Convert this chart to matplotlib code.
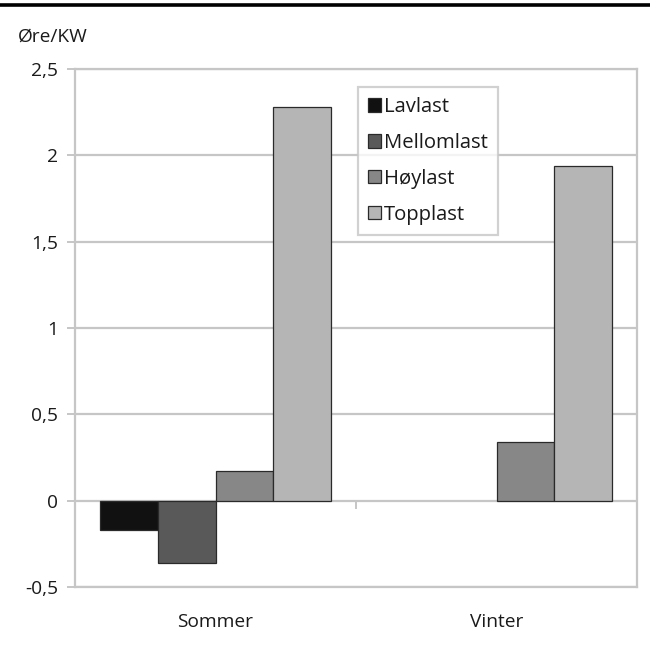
import matplotlib
matplotlib.use("Agg")
import matplotlib.pyplot as plt
import numpy as np
from matplotlib.lines import Line2D

plt.rcParams['font.family'] = ['Open Sans', 'DejaVu Sans']

# Data
categories = ["Sommer", "Vinter"]
series_names = ["Lavlast", "Mellomlast", "Høylast", "Topplast"]
lavlast = [-0.17, 0.0]
mellomlast = [-0.36, 0.0]
hoylast = [0.17, 0.34]
topplast = [2.28, 1.94]
y_ticks = [-0.5, 0, 0.5, 1, 1.5, 2, 2.5]
y_tick_labels = ["-0,5", "0", "0,5", "1", "1,5", "2", "2,5"]
y_unit = "Øre/KW"

series_values = [lavlast, mellomlast, hoylast, topplast]
colors = ["#111111", "#595959", "#878787", "#b5b5b5"]
grid_color = "#c6c6c6"
text_color = "#1a1a1a"
fs = 13.8
legend_fs = 14.6

fig = plt.figure(figsize=(6.5, 6.48), dpi=100)
ax = fig.add_axes([75 / 650, 1 - 587 / 648, 562 / 650, 518 / 648])

x = np.arange(len(categories)) + 0.5
width = 0.205
offsets = (np.arange(len(series_names)) - 1.5) * width
for name, vals, col, off in zip(series_names, series_values, colors, offsets):
    # empty (zero) bars get no outline
    lws = [0.9 if v != 0 else 0.0 for v in vals]
    ax.bar(x + off, vals, width=width, color=col, edgecolor="#2a2a2a",
           linewidth=lws, label=name, zorder=3)

ax.set_xlim(0, len(categories))
ax.set_ylim(-0.5, 2.5)

# Gridlines and frame
ax.set_yticks(y_ticks)
ax.set_yticklabels(y_tick_labels, fontsize=fs, color=text_color)
ax.yaxis.grid(True, color=grid_color, linewidth=1.6, zorder=0)
ax.set_axisbelow(True)
for s in ax.spines.values():
    s.set_color(grid_color)
    s.set_linewidth(1.6)
ax.tick_params(axis="y", direction="out", length=6, width=1.4,
               color=grid_color, pad=6)

ax.set_xticks(x)
ax.set_xticklabels(categories, fontsize=fs, color=text_color)
ax.tick_params(axis="x", length=0, pad=19)

# Category divider tick on the zero line
sec = ax.secondary_xaxis((0 - (-0.5)) / 3.0)
sec.set_xticks([1.0])
sec.set_xticklabels([""])
sec.tick_params(axis="x", direction="out", length=6, width=1.4, color=grid_color)
sec.spines["bottom"].set_visible(False)

leg = ax.legend(loc="upper left", bbox_to_anchor=((358 - 75) / 562, (587 - 87) / 518),
                frameon=True, fancybox=False, fontsize=legend_fs, handlelength=0.65,
                handleheight=0.65, handletextpad=0.15, labelspacing=0.78,
                borderpad=0.5, borderaxespad=0)
leg.get_frame().set_edgecolor(grid_color)
leg.get_frame().set_linewidth(1.6)
for t in leg.get_texts():
    t.set_color(text_color)
for h in leg.legend_handles:
    h.set_linewidth(0.9)

fig.text(18 / 650, 1 - 37 / 648, y_unit, fontsize=fs, color=text_color,
         ha="left", va="center")

fig.add_artist(Line2D([0, 1], [1 - 5 / 648, 1 - 5 / 648], color="black",
                      linewidth=2.6, transform=fig.transFigure))

fig.savefig("out.png", dpi=100)
